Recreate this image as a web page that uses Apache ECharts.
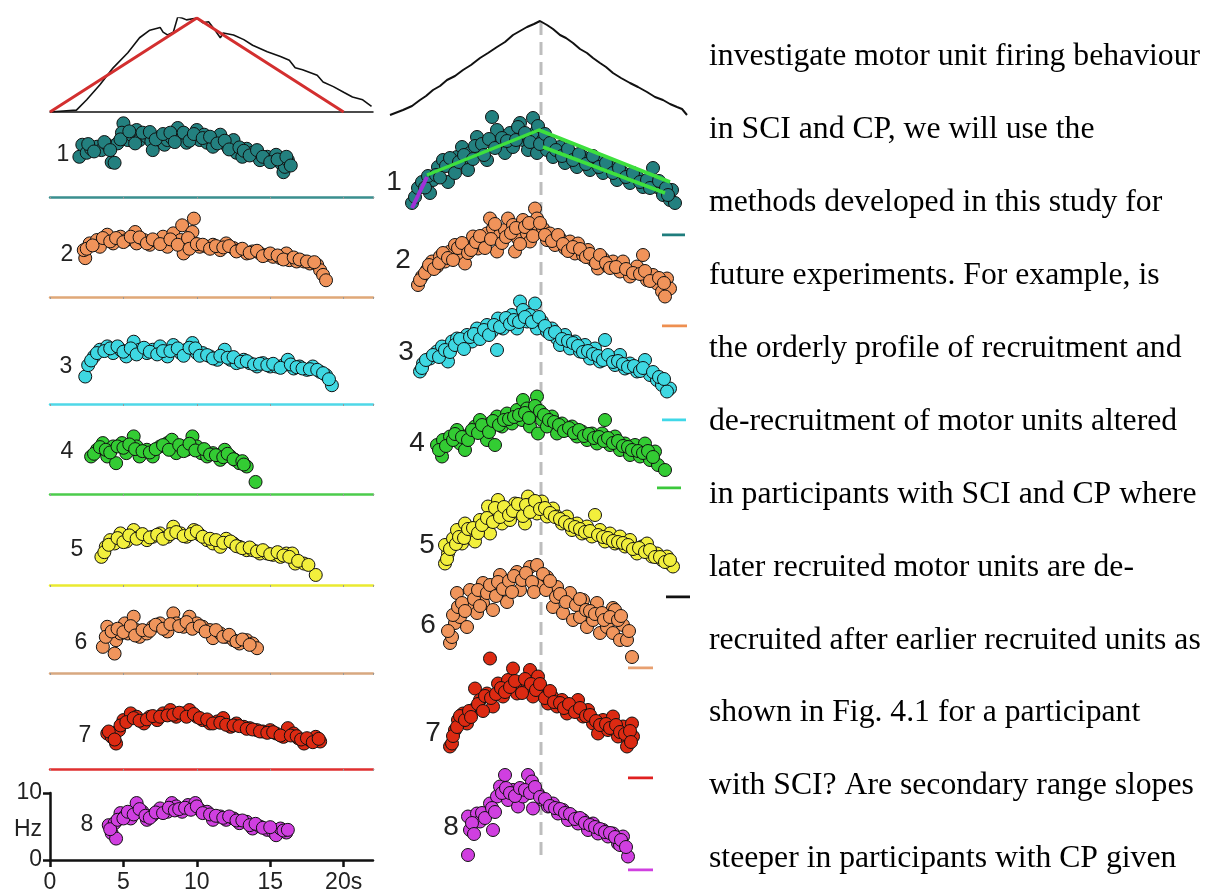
<!DOCTYPE html>
<html>
<head>
<meta charset="UTF-8">
<title>Motor unit firing</title>
<script src="https://cdn.jsdelivr.net/npm/echarts@6/dist/echarts.min.js"></script>
<style>
html, body { margin: 0; padding: 0; background: #fff; }
#chart { width: 1215px; height: 894px; }
</style>
</head>
<body>
<div id="chart"></div>
<script>
// ---- force traces (time s, force % of peak) ----
var rampTarget = [[0, 0], [10, 100], [20, 0]];
var forceLeft = [[0, 0], [1.8, 2], [2.5, 13], [3.4, 29], [4.3, 47], [5.3, 63], [6.1, 79], [6.8, 87], [7.5, 90], [7.7, 85], [8.0, 82], [8.4, 85], [8.7, 101], [9.0, 100], [9.3, 98], [10.0, 100], [10.4, 95], [10.8, 96], [11.1, 90], [11.6, 79], [11.8, 84], [12.5, 82], [13.2, 77], [13.8, 71], [14.8, 64], [15.7, 59], [16.3, 55], [16.7, 47], [17.2, 45], [18.2, 39], [18.6, 32], [19.3, 27], [20.0, 21], [20.6, 16], [21.3, 13], [21.9, 6]];
var forceMid = [[0, 0], [1.3, 5], [2.2, 9], [3.0, 15], [3.6, 19], [4.3, 25], [5.0, 29], [5.7, 35], [6.5, 39], [7.3, 45], [8.1, 50], [9.0, 57], [9.8, 62], [10.7, 68], [11.5, 73], [12.3, 80], [13.0, 84], [13.7, 88], [14.4, 91], [15.0, 94], [15.7, 90], [16.3, 86], [17.0, 80], [17.6, 77], [18.3, 72], [19.0, 66], [19.7, 62], [20.3, 57], [21.0, 52], [21.6, 48], [22.3, 42], [23.1, 37], [24.0, 32], [24.8, 28], [25.7, 23], [26.5, 18], [27.3, 15], [28.0, 11], [28.7, 8], [29.2, 6], [29.7, 0]];
var peakTime = 15.1;

// ---- left panel: firing rate (s, Hz) for units 1-8 ----
var leftUnit1 = [[2.2, 7.8], [2.0, 6.0], [2.5, 6.6], [2.8, 7.2], [3.2, 7.5], [3.5, 7.0], [3.9, 7.8], [4.2, 5.2], [4.4, 5.1], [4.6, 8.0], [5.0, 11.0], [4.9, 9.6], [5.3, 8.5], [5.6, 9.2], [5.9, 10.0], [6.1, 8.5], [6.6, 9.0], [6.9, 8.3], [7.0, 7.0], [7.5, 9.0], [7.8, 7.8], [8.0, 8.5], [8.3, 8.8], [8.7, 10.3], [8.9, 9.0], [9.3, 8.1], [9.6, 9.0], [10.0, 10.0], [10.2, 8.5], [10.5, 9.3], [10.7, 8.1], [11.1, 7.5], [11.3, 8.6], [11.6, 9.3], [12.1, 7.5], [12.3, 8.0], [12.5, 8.5], [12.7, 6.6], [13.1, 6.0], [13.4, 7.2], [13.8, 6.6], [14.0, 6.5], [14.3, 5.5], [14.8, 6.0], [15.2, 5.5], [15.4, 6.3], [15.7, 5.1], [15.9, 3.7], [16.0, 4.5], [16.2, 5.5],
  [2.6, 7.9], [3.0, 6.8], [3.7, 8.2], [4.1, 7.0], [4.8, 8.6], [5.4, 9.8], [5.8, 8.0], [6.3, 9.6], [6.8, 9.7], [7.2, 8.6], [7.7, 9.4], [8.2, 9.6], [8.5, 8.2], [9.1, 9.6], [9.5, 8.4], [9.8, 9.4], [10.4, 8.8], [10.9, 9.0], [11.4, 8.0], [11.9, 8.4], [12.2, 7.1], [12.9, 7.4], [13.2, 6.9], [13.6, 6.2], [14.1, 7.0], [14.5, 6.0], [15.0, 5.2], [15.5, 5.6], [16.1, 6.0], [16.4, 4.7]];
var leftUnit2 = [[2.4, 5.8], [2.3, 7.0], [2.7, 8.0], [3.2, 8.5], [3.4, 7.5], [3.9, 9.3], [4.3, 8.0], [4.8, 9.0], [5.2, 8.5], [5.8, 9.7], [5.9, 8.0], [6.4, 8.5], [6.8, 7.8], [7.3, 8.3], [7.7, 9.0], [8.0, 7.5], [8.4, 9.5], [8.9, 8.5], [9.0, 10.7], [9.1, 6.5], [9.7, 9.7], [9.8, 11.7], [9.8, 8.0], [10.2, 7.5], [10.7, 7.5], [11.1, 7.8], [11.6, 7.0], [12.0, 8.0], [12.5, 7.3], [12.9, 7.0], [13.4, 6.5], [13.8, 6.8], [14.3, 6.5], [14.8, 6.3], [15.2, 6.0], [15.7, 5.8], [16.1, 6.5], [16.3, 5.5], [16.8, 5.3], [17.3, 5.3], [17.7, 5.0], [18.2, 4.8], [18.4, 4.0], [18.6, 3.3], [18.8, 2.5],
  [2.5, 7.2], [2.9, 7.7], [3.6, 8.8], [4.1, 8.3], [4.5, 8.8], [5.0, 8.2], [5.5, 9.0], [6.1, 8.9], [6.6, 8.0], [7.0, 8.6], [7.5, 7.9], [8.2, 8.6], [8.7, 7.8], [9.4, 8.8], [9.5, 7.2], [10.0, 7.9], [10.4, 7.8], [10.9, 7.2], [11.3, 7.6], [11.8, 7.4], [12.2, 7.6], [12.7, 6.8], [13.1, 7.2], [13.6, 6.6], [14.1, 6.9], [14.5, 6.1], [15.0, 6.5], [15.5, 6.2], [15.9, 5.6], [16.6, 5.9], [17.0, 5.6], [17.5, 5.3], [18.0, 5.2]];
var leftUnit3 = [[2.4, 4.1], [2.6, 5.8], [3.0, 7.1], [3.4, 8.1], [3.9, 8.6], [4.3, 7.6], [4.8, 8.1], [5.2, 7.1], [5.7, 9.3], [6.1, 8.1], [6.6, 7.6], [7.0, 8.1], [7.5, 8.6], [8.0, 7.1], [8.4, 8.8], [8.9, 7.6], [9.3, 8.1], [9.7, 9.1], [10.0, 7.6], [10.4, 7.6], [10.9, 7.1], [11.4, 6.6], [11.9, 8.1], [12.3, 6.6], [12.7, 6.1], [13.2, 6.6], [13.6, 6.1], [14.1, 5.6], [14.5, 6.1], [15.0, 5.6], [15.4, 5.6], [15.9, 5.8], [16.2, 6.6], [16.6, 5.3], [17.0, 5.6], [17.5, 5.1], [17.9, 5.6], [18.4, 4.8], [18.8, 4.3], [19.2, 2.8],
  [2.8, 6.5], [3.2, 7.6], [3.7, 7.9], [4.1, 8.3], [4.6, 8.6], [5.0, 7.8], [5.5, 8.3], [5.9, 7.4], [6.4, 8.4], [6.8, 7.8], [7.3, 7.4], [7.7, 7.9], [8.2, 7.9], [8.7, 8.3], [9.1, 7.2], [9.5, 8.4], [9.9, 8.3], [10.2, 7.2], [10.7, 7.3], [11.1, 6.8], [11.6, 7.2], [12.1, 6.9], [12.5, 7.0], [13.0, 6.3], [13.4, 6.4], [13.9, 5.9], [14.3, 6.0], [14.8, 5.8], [15.2, 6.0], [15.7, 5.4], [16.4, 5.9], [16.8, 5.5], [17.2, 5.3], [17.7, 5.2], [18.2, 5.1], [18.6, 4.6], [19.0, 3.7]];
var leftUnit4 = [[2.8, 5.6], [3.2, 6.6], [3.6, 7.6], [3.9, 5.6], [4.3, 7.1], [4.5, 4.6], [4.9, 7.6], [5.2, 6.1], [5.7, 8.6], [5.9, 7.1], [6.1, 5.6], [6.6, 6.6], [7.0, 5.6], [7.5, 7.1], [8.0, 7.6], [8.3, 8.1], [8.6, 6.1], [9.0, 7.1], [9.3, 6.6], [9.7, 8.6], [10.0, 7.1], [10.3, 6.1], [10.7, 5.6], [11.1, 6.1], [11.6, 5.1], [11.9, 6.6], [12.3, 5.6], [12.6, 5.1], [12.9, 4.6], [13.4, 4.1], [14.0, 1.8],
  [3.0, 6.0], [3.4, 7.0], [3.8, 6.6], [4.1, 6.2], [4.6, 7.1], [5.0, 6.9], [5.4, 7.4], [5.8, 6.7], [6.3, 6.4], [6.8, 6.2], [7.2, 6.7], [7.7, 7.3], [8.1, 6.6], [8.8, 7.3], [9.1, 6.4], [9.5, 7.5], [9.9, 6.5], [10.5, 6.7], [10.9, 5.9], [11.3, 5.8], [11.8, 5.5], [12.1, 6.0], [12.5, 5.2], [13.1, 4.9], [13.2, 4.4]];
var leftUnit5 = [[3.5, 4.2], [3.8, 5.7], [4.1, 6.7], [4.4, 6.2], [4.8, 7.7], [5.2, 6.5], [5.7, 8.2], [6.1, 7.2], [6.6, 6.7], [7.0, 7.2], [7.5, 7.7], [8.0, 7.2], [8.4, 8.7], [8.9, 7.7], [9.3, 7.2], [9.8, 8.2], [10.2, 7.5], [10.7, 6.7], [11.1, 6.2], [11.6, 5.7], [12.0, 6.9], [12.5, 6.2], [12.9, 5.7], [13.4, 5.2], [13.8, 5.2], [14.3, 4.7], [14.8, 4.7], [15.2, 4.5], [15.7, 4.2], [16.1, 4.7], [16.5, 4.7], [16.7, 3.2], [17.3, 3.2], [18.1, 1.5],
  [3.7, 4.9], [4.0, 6.0], [4.6, 7.0], [5.0, 6.4], [5.4, 7.4], [5.9, 6.9], [6.3, 7.6], [6.8, 7.1], [7.3, 7.5], [7.7, 6.9], [8.2, 7.6], [8.6, 7.9], [9.1, 7.3], [9.6, 7.6], [10.0, 8.0], [10.4, 7.2], [10.9, 6.9], [11.3, 6.7], [11.8, 6.3], [12.3, 6.5], [12.7, 5.8], [13.1, 5.5], [13.6, 5.6], [14.1, 5.0], [14.5, 5.2], [15.0, 4.6], [15.5, 4.9], [15.9, 4.4], [16.3, 4.2], [16.9, 3.6], [17.6, 3.0]];
var leftUnit6 = [[3.6, 3.9], [3.9, 6.9], [4.4, 2.9], [4.5, 4.9], [4.8, 5.9], [5.1, 7.4], [5.3, 5.9], [5.7, 8.4], [5.9, 6.4], [6.1, 5.4], [6.6, 5.9], [7.0, 6.9], [7.5, 7.4], [8.0, 6.2], [8.4, 8.9], [8.6, 7.4], [9.1, 6.9], [9.5, 8.4], [10.0, 7.4], [10.4, 6.9], [10.9, 6.4], [11.1, 5.2], [11.6, 5.9], [12.0, 5.4], [12.5, 4.9], [12.9, 4.4], [13.4, 4.9], [13.8, 4.4], [14.1, 3.7],
  [3.8, 5.4], [4.2, 6.2], [4.6, 6.6], [5.0, 6.1], [5.5, 7.0], [5.8, 5.6], [6.3, 6.4], [6.8, 6.3], [7.2, 7.2], [7.7, 6.6], [8.2, 7.3], [8.8, 7.0], [9.3, 7.6], [9.7, 6.6], [10.2, 7.0], [10.6, 6.2], [11.3, 6.4], [11.8, 5.4], [12.2, 5.7], [12.7, 4.7], [13.1, 5.0], [13.6, 4.2]];
var leftUnit7 = [[3.9, 5.3], [4.2, 4.8], [4.5, 3.8], [4.7, 5.8], [5.0, 7.3], [5.5, 8.3], [5.9, 7.8], [6.4, 6.8], [6.8, 7.8], [7.3, 7.3], [7.7, 8.3], [8.2, 8.8], [8.6, 7.8], [9.1, 8.3], [9.5, 8.8], [10.0, 7.8], [10.4, 7.3], [10.9, 6.8], [11.4, 7.1], [11.8, 7.6], [12.3, 6.3], [12.7, 6.8], [13.2, 6.3], [13.6, 6.1], [14.1, 5.8], [14.5, 5.6], [15.0, 5.8], [15.4, 5.3], [15.9, 4.8], [16.2, 6.1], [16.6, 5.3], [16.9, 4.6], [17.3, 3.8], [17.7, 4.3], [18.1, 4.8], [18.4, 4.1],
  [4.0, 5.6], [4.4, 4.4], [4.8, 6.5], [5.2, 7.0], [5.7, 7.6], [6.1, 7.2], [6.6, 7.4], [7.0, 7.9], [7.5, 7.8], [8.0, 8.0], [8.4, 8.1], [8.8, 8.4], [9.3, 7.8], [9.8, 8.2], [10.2, 7.6], [10.7, 7.4], [11.1, 6.8], [11.6, 6.9], [12.0, 6.6], [12.5, 6.5], [12.9, 6.4], [13.4, 6.0], [13.8, 5.9], [14.3, 5.6], [14.8, 5.4], [15.2, 5.5], [15.7, 5.0], [16.4, 5.0], [16.8, 4.9], [17.1, 4.4], [17.5, 4.6], [17.9, 4.0], [18.3, 4.5]];
var leftUnit8 = [[4.0, 5.2], [4.2, 4.0], [4.5, 3.2], [4.4, 5.5], [4.8, 7.0], [5.1, 6.5], [5.5, 6.2], [5.9, 8.5], [6.3, 7.2], [6.6, 6.0], [7.0, 6.7], [7.5, 7.7], [8.0, 7.2], [8.3, 8.5], [8.6, 8.0], [9.0, 7.2], [9.4, 8.2], [9.9, 8.5], [10.2, 7.5], [10.7, 7.2], [11.1, 6.0], [11.6, 6.5], [12.0, 6.0], [12.5, 6.2], [12.9, 5.5], [13.4, 5.7], [13.8, 4.7], [14.3, 5.0], [14.8, 4.5], [15.2, 4.2], [15.4, 3.7], [15.7, 4.7], [16.1, 4.1],
  [4.1, 4.6], [4.6, 6.0], [5.0, 6.2], [5.3, 7.2], [5.7, 6.8], [6.1, 7.6], [6.5, 6.6], [6.8, 6.3], [7.2, 7.1], [7.7, 7.0], [8.1, 7.8], [8.5, 7.4], [8.8, 7.6], [9.2, 7.8], [9.6, 7.5], [10.0, 8.0], [10.4, 7.0], [10.9, 6.8], [11.3, 6.6], [11.8, 6.3], [12.2, 6.5], [12.7, 5.9], [13.1, 5.9], [13.6, 5.2], [14.0, 5.4], [14.5, 4.8], [15.0, 4.9], [15.9, 4.4], [16.2, 4.5]];

// ---- middle panel: firing rate around the peak, units 1-8 ----
var midUnit1 = [[2.2, 6.4], [2.5, 7.6], [2.8, 9.4], [3.2, 10.6], [4.0, 8.4], [4.3, 11.0], [4.8, 13.6], [5.3, 15.0], [5.8, 10.6], [6.2, 13.6], [6.7, 15.6], [7.2, 17.6], [7.5, 14.4], [8.0, 16.4], [8.7, 19.6], [9.0, 17.0], [9.7, 15.0], [10.2, 23.6], [10.3, 19.0], [10.7, 21.0], [11.0, 17.6], [11.5, 16.4], [12.0, 20.4], [12.3, 17.6], [13.0, 22.4], [13.3, 19.0], [13.8, 17.0], [14.3, 23.4], [14.5, 20.4], [14.7, 16.4], [15.3, 19.0], [15.7, 17.0], [16.3, 15.6], [17.0, 17.6], [17.5, 14.4], [18.0, 16.4], [18.7, 13.6], [19.3, 15.6], [20.0, 13.0], [20.7, 15.0], [21.3, 12.4], [22.0, 13.6], [22.7, 11.0], [23.3, 12.4], [24.0, 10.4], [24.7, 11.6], [25.3, 9.6], [26.3, 13.4], [26.7, 9.6], [27.3, 8.0], [28.2, 9.0], [28.0, 7.0], [28.5, 6.4],
  [3.5, 9.5], [3.8, 11.8], [4.6, 12.0], [5.0, 11.5], [5.6, 13.8], [6.0, 15.4], [6.5, 12.4], [6.9, 14.6], [7.4, 16.0], [7.8, 13.0], [8.3, 15.2], [8.5, 17.8], [9.2, 18.2], [9.4, 16.0], [9.9, 19.2], [10.5, 17.4], [11.2, 19.4], [11.7, 18.8], [12.6, 19.0], [12.8, 21.6], [13.5, 20.4], [14.0, 18.6], [14.8, 21.8], [15.0, 18.2], [15.5, 20.2], [16.0, 18.4], [16.6, 17.0], [17.2, 15.8], [17.8, 17.2], [18.3, 15.0], [18.9, 16.2], [19.6, 14.2], [20.3, 15.8], [20.9, 13.6], [21.6, 14.4], [22.3, 12.4], [22.9, 13.4], [23.6, 11.6], [24.3, 12.4], [25.0, 10.6], [25.7, 11.0], [26.0, 9.4], [26.9, 10.8], [27.6, 9.4], [27.8, 8.0]];
var midUnit2 = [[2.8, 8.2], [3.2, 9.9], [3.7, 11.2], [4.2, 12.9], [4.7, 11.9], [5.0, 13.9], [5.5, 12.9], [6.0, 14.9], [6.5, 16.2], [7.0, 14.5], [7.5, 12.5], [8.0, 16.2], [8.3, 17.9], [8.8, 15.5], [9.3, 16.9], [9.7, 18.5], [10.0, 21.5], [10.3, 19.5], [10.7, 14.9], [11.0, 18.2], [11.5, 19.2], [11.8, 21.5], [12.3, 20.2], [12.5, 14.9], [12.8, 17.5], [13.3, 21.2], [13.7, 18.5], [14.0, 16.9], [14.5, 23.5], [14.7, 21.5], [14.8, 18.9], [15.3, 19.5], [15.7, 17.2], [16.0, 18.5], [16.5, 16.2], [17.0, 17.5], [17.5, 15.5], [18.0, 16.9], [18.5, 14.5], [18.8, 16.5], [19.3, 14.2], [19.8, 15.2], [20.3, 13.2], [20.8, 11.5], [21.3, 13.5], [21.8, 11.9], [22.3, 12.9], [23.0, 10.9], [23.3, 12.9], [24.0, 9.9], [24.7, 11.9], [25.3, 14.2], [25.7, 9.2], [26.3, 10.2], [26.7, 8.5], [27.2, 6.9], [27.7, 9.5], [28.0, 7.5], [27.5, 5.9],
  [3.0, 9.2], [3.5, 10.6], [3.9, 12.2], [4.4, 11.4], [4.9, 12.6], [5.3, 14.6], [5.8, 13.6], [6.3, 13.2], [6.8, 15.6], [7.2, 16.6], [7.8, 14.6], [8.1, 15.2], [8.6, 16.8], [9.0, 18.0], [9.5, 15.6], [10.1, 17.4], [10.5, 20.4], [11.2, 16.6], [11.6, 17.8], [12.1, 18.6], [12.6, 19.6], [13.0, 16.4], [13.5, 19.8], [13.9, 20.6], [14.3, 18.0], [15.0, 20.6], [15.5, 18.2], [16.2, 17.0], [16.8, 18.2], [17.3, 16.4], [17.8, 15.0], [18.3, 15.8], [19.0, 15.4], [19.6, 13.8], [20.0, 14.4], [20.6, 12.6], [21.0, 14.2], [21.6, 12.6], [22.0, 11.6], [22.6, 11.8], [23.6, 11.4], [24.3, 10.6], [25.0, 10.4], [25.5, 11.0], [26.0, 9.0], [26.9, 9.6], [27.4, 8.6]];
var midUnit3 = [[3.0, 9.7], [3.3, 11.3], [4.0, 12.3], [4.7, 13.7], [5.2, 14.7], [5.8, 11.7], [6.2, 15.7], [6.7, 16.3], [7.2, 15.0], [7.7, 17.0], [8.2, 15.7], [8.7, 18.3], [9.2, 17.0], [9.7, 19.0], [10.2, 17.7], [10.7, 14.0], [10.8, 20.3], [11.3, 18.3], [11.8, 19.7], [12.2, 21.0], [12.7, 18.3], [13.0, 23.7], [13.3, 22.0], [13.7, 19.7], [14.0, 21.0], [14.5, 23.3], [14.7, 18.3], [15.2, 19.7], [15.7, 17.7], [16.2, 18.3], [16.7, 16.3], [17.0, 15.0], [17.5, 17.0], [18.0, 14.3], [18.5, 15.7], [19.0, 13.7], [19.5, 15.0], [20.0, 12.3], [20.5, 14.3], [21.0, 11.7], [21.5, 16.0], [22.0, 12.3], [22.5, 11.0], [23.0, 13.0], [23.5, 10.3], [24.0, 11.3], [24.7, 9.7], [25.5, 12.0], [26.0, 9.0], [26.7, 8.0], [27.2, 7.0], [28.0, 6.3], [27.7, 5.7],
  [3.2, 10.4], [3.6, 12.0], [4.3, 13.0], [4.9, 12.6], [5.5, 14.0], [6.0, 13.6], [6.5, 15.0], [7.0, 16.2], [7.4, 14.2], [8.0, 16.6], [8.4, 17.2], [9.0, 16.2], [9.4, 18.0], [9.9, 17.0], [10.4, 19.0], [11.0, 18.6], [11.6, 20.4], [12.0, 19.2], [12.4, 20.0], [12.9, 19.6], [13.5, 20.6], [14.2, 19.6], [14.9, 20.6], [15.5, 18.8], [16.0, 17.2], [16.5, 17.6], [17.2, 16.2], [17.8, 15.8], [18.3, 15.4], [18.8, 14.8], [19.3, 13.6], [19.8, 13.8], [20.3, 13.2], [20.8, 12.8], [21.3, 12.0], [21.8, 13.0], [22.3, 11.6], [22.8, 11.8], [23.3, 11.2], [23.8, 10.6], [24.4, 10.8], [25.0, 9.8], [25.3, 10.4], [26.3, 9.6], [26.9, 8.6], [27.4, 8.2]];
var midUnit4 = [[4.7, 8.6], [5.2, 6.3], [5.3, 9.6], [6.0, 10.3], [6.7, 11.6], [7.0, 8.9], [7.5, 7.6], [8.0, 10.9], [8.5, 12.3], [9.0, 13.6], [9.5, 11.6], [9.7, 9.6], [10.0, 12.9], [10.5, 8.6], [10.7, 14.3], [11.2, 12.3], [11.7, 14.9], [12.2, 12.9], [12.7, 15.6], [13.2, 13.6], [13.3, 17.6], [13.7, 15.9], [14.0, 12.3], [14.3, 14.6], [14.7, 18.3], [14.8, 10.9], [15.2, 13.6], [15.7, 12.3], [16.2, 14.3], [16.7, 10.9], [17.2, 12.9], [17.7, 11.6], [18.2, 12.3], [18.7, 10.3], [19.2, 11.3], [19.7, 9.6], [20.2, 10.9], [20.7, 8.9], [21.2, 10.9], [21.5, 13.6], [22.0, 8.6], [22.5, 10.3], [23.0, 7.6], [23.5, 8.9], [24.0, 6.6], [24.5, 8.6], [25.0, 6.3], [25.5, 8.9], [26.0, 5.6], [26.5, 7.3], [26.8, 4.6], [27.5, 3.6],
  [4.9, 7.6], [5.6, 8.4], [6.3, 9.6], [6.5, 10.8], [7.2, 10.2], [7.8, 9.6], [8.2, 11.6], [8.8, 11.0], [9.2, 12.6], [9.9, 11.2], [10.3, 13.4], [10.9, 12.6], [11.4, 13.6], [11.9, 13.8], [12.4, 14.2], [12.9, 14.6], [13.5, 15.0], [13.9, 14.0], [14.5, 16.4], [15.0, 15.4], [15.4, 14.6], [15.9, 13.6], [16.4, 13.2], [16.9, 12.6], [17.4, 11.4], [17.9, 12.0], [18.4, 11.0], [18.9, 11.6], [19.4, 10.4], [19.9, 10.8], [20.4, 10.0], [20.9, 10.2], [21.4, 9.4], [21.8, 10.0], [22.3, 9.0], [22.8, 9.4], [23.3, 8.4], [23.8, 8.2], [24.2, 7.6], [24.8, 7.4], [25.3, 7.0], [25.8, 7.4], [26.3, 6.2]];
var midUnit5 = [[5.5, 6.7], [5.8, 8.7], [5.5, 10.4], [6.3, 11.7], [6.7, 13.4], [7.2, 10.7], [7.5, 14.7], [8.0, 12.7], [8.5, 11.1], [9.0, 15.4], [9.5, 14.1], [9.8, 18.1], [10.0, 12.7], [10.7, 16.7], [10.8, 19.4], [11.2, 14.7], [11.7, 17.4], [12.0, 15.4], [12.5, 18.7], [13.0, 17.4], [13.5, 14.7], [13.8, 20.1], [14.2, 18.7], [14.7, 16.7], [15.2, 19.1], [15.7, 16.1], [16.3, 17.7], [16.7, 16.1], [17.2, 14.7], [17.7, 16.1], [18.2, 13.4], [18.7, 14.7], [19.2, 12.7], [19.7, 14.1], [20.2, 12.1], [20.5, 16.4], [21.0, 13.4], [21.5, 11.1], [22.0, 12.7], [22.5, 10.7], [23.0, 12.1], [23.5, 10.1], [24.0, 11.4], [24.7, 8.7], [25.2, 10.1], [25.7, 10.7], [26.2, 8.1], [26.7, 8.7], [27.2, 7.4], [27.7, 8.1], [28.0, 6.7], [28.3, 6.1],
  [5.7, 7.6], [6.0, 9.6], [6.6, 10.6], [6.9, 12.0], [7.4, 11.8], [7.8, 13.6], [8.3, 13.8], [8.8, 12.8], [9.2, 14.4], [9.7, 15.8], [10.3, 15.0], [10.5, 17.8], [11.0, 16.0], [11.4, 18.0], [11.9, 16.4], [12.3, 17.2], [12.8, 18.6], [13.3, 16.2], [13.6, 18.4], [14.0, 17.0], [14.5, 19.2], [15.0, 17.6], [15.5, 17.8], [16.0, 16.8], [16.5, 16.0], [17.0, 15.6], [17.5, 15.0], [18.0, 14.4], [18.5, 14.0], [19.0, 13.6], [19.5, 13.0], [20.0, 13.2], [20.8, 12.4], [21.3, 12.0], [21.8, 11.8], [22.3, 11.2], [22.8, 11.0], [23.3, 10.8], [23.8, 10.4], [24.3, 9.6], [24.9, 9.8], [25.5, 9.0], [26.0, 9.4], [26.5, 8.0], [27.0, 8.0], [27.5, 7.0], [28.0, 7.4]];
var midUnit6 = [[6.0, 5.0], [6.2, 6.2], [6.5, 9.0], [7.0, 10.2], [7.7, 8.2], [6.7, 15.0], [8.0, 12.2], [8.0, 15.6], [8.7, 11.0], [9.3, 13.0], [9.3, 17.0], [10.3, 11.6], [11.0, 18.6], [11.7, 13.2], [12.7, 19.2], [13.0, 15.6], [14.0, 20.2], [14.7, 20.6], [15.0, 16.6], [15.7, 18.2], [16.3, 12.2], [16.7, 16.2], [17.3, 11.0], [18.0, 15.0], [18.3, 9.6], [19.0, 10.2], [19.3, 13.6], [19.7, 8.2], [20.3, 9.6], [20.7, 13.0], [21.0, 7.0], [21.7, 8.2], [22.3, 12.0], [22.3, 7.0], [22.5, 11.6], [23.0, 5.6], [23.3, 8.6], [23.7, 5.6], [24.2, 2.2],
  [5.8, 7.4], [6.3, 10.6], [6.8, 12.2], [7.2, 13.0], [7.5, 11.4], [8.4, 13.8], [8.8, 15.6], [9.0, 12.4], [9.7, 15.0], [10.0, 16.6], [10.6, 14.4], [10.8, 17.2], [11.3, 15.8], [11.9, 17.4], [12.2, 15.2], [12.4, 18.4], [13.2, 17.6], [13.6, 19.0], [14.2, 17.2], [14.4, 15.2], [15.3, 18.8], [15.6, 15.6], [16.0, 17.4], [16.6, 14.2], [17.0, 14.8], [17.6, 13.2], [18.6, 12.6], [19.0, 13.8], [19.6, 11.6], [20.0, 11.4], [20.5, 10.8], [21.2, 11.0], [21.4, 9.6], [22.0, 10.2], [22.8, 9.6], [23.1, 10.4], [23.9, 7.4]];
var midUnit7 = [[6.0, 6.3], [6.2, 6.9], [6.5, 9.6], [6.8, 11.6], [7.3, 12.9], [7.7, 10.9], [8.3, 13.6], [8.5, 17.9], [9.0, 15.6], [9.7, 16.9], [10.0, 23.9], [10.3, 14.3], [10.8, 18.9], [11.3, 16.3], [11.8, 19.6], [12.3, 21.9], [12.7, 16.9], [13.0, 18.9], [13.7, 17.9], [14.0, 21.6], [14.3, 16.3], [14.8, 20.3], [15.3, 17.6], [15.8, 14.9], [16.2, 16.3], [16.7, 14.3], [17.2, 15.6], [17.7, 12.9], [18.2, 14.3], [18.8, 15.6], [19.3, 12.3], [19.8, 13.6], [20.3, 10.9], [20.8, 8.9], [21.3, 11.6], [21.8, 9.6], [22.3, 12.3], [22.8, 8.3], [23.3, 10.3], [23.8, 7.6], [24.2, 10.9], [24.3, 8.3], [23.7, 6.3],
  [6.3, 8.4], [6.7, 10.2], [7.0, 12.4], [7.5, 11.6], [7.9, 13.4], [8.1, 12.2], [8.8, 14.8], [9.3, 13.4], [9.5, 16.4], [10.1, 16.0], [10.6, 16.8], [11.1, 18.0], [11.5, 17.2], [12.0, 18.2], [12.5, 19.4], [13.2, 17.0], [13.5, 19.8], [14.1, 18.8], [14.6, 17.6], [15.0, 18.8], [15.5, 16.0], [16.0, 17.4], [16.4, 15.2], [17.0, 15.0], [17.4, 14.0], [17.9, 14.8], [18.5, 13.2], [19.0, 14.0], [19.6, 12.4], [20.0, 12.6], [20.6, 11.4], [21.0, 10.6], [21.6, 10.8], [22.0, 10.0], [22.6, 10.6], [23.0, 9.2], [23.5, 8.8], [24.0, 9.4], [24.1, 7.2]];
var midUnit8 = [[7.8, 3.0], [8.0, 8.0], [7.8, 10.7], [8.7, 11.3], [9.0, 9.7], [9.7, 11.3], [10.3, 8.0], [10.0, 13.3], [10.7, 14.7], [11.0, 16.7], [11.5, 19.0], [11.8, 14.0], [12.3, 16.0], [12.8, 12.7], [13.3, 14.7], [13.8, 19.0], [14.2, 17.7], [14.3, 12.3], [14.8, 15.3], [15.3, 14.0], [15.8, 12.7], [16.3, 13.3], [16.8, 11.3], [17.3, 12.0], [17.8, 10.0], [18.3, 10.7], [18.8, 9.3], [19.3, 10.0], [19.8, 8.0], [20.3, 9.3], [20.8, 7.3], [21.3, 8.0], [21.8, 6.7], [22.3, 7.3], [22.8, 5.3], [23.3, 6.7], [23.0, 5.0], [23.8, 2.7],
  [8.2, 9.4], [8.4, 7.2], [9.2, 11.4], [9.5, 10.4], [10.2, 12.4], [10.5, 11.6], [11.2, 15.4], [11.6, 16.4], [12.0, 15.4], [12.5, 14.8], [13.0, 16.4], [13.5, 16.0], [14.0, 15.4], [14.5, 16.6], [15.0, 14.6], [15.5, 14.2], [16.0, 12.8], [16.5, 12.4], [17.0, 12.2], [17.5, 11.4], [18.0, 11.2], [18.5, 10.2], [19.0, 10.4], [19.5, 9.4], [20.0, 9.0], [20.5, 8.6], [21.0, 8.2], [21.5, 7.6], [22.0, 7.4], [22.5, 6.6], [23.1, 6.0], [23.6, 4.6]];

// fitted slopes for unit 1 (middle panel)
var fitUp = [[3.7, 12.0], [14.9, 21.0], [28.0, 10.6]];
var fitDown = [[15.3, 17.6], [27.5, 8.4]];
var fitOnset = [[2.2, 5.4], [3.7, 11.6]];
// zero markers on the right of the middle panel (start, end time)
var zeroMarks = [[27.2, 29.5], [27.2, 29.7], [27.2, 29.6], [26.7, 29.1], [27.6, 30.0], [23.8, 26.3], [23.8, 26.3], [23.8, 26.3]];

var unitLabels = ['1', '2', '3', '4', '5', '6', '7', '8'];
var timeTicks = ['0', '5', '10', '15', '20s'];
var paragraphLines = [
  'investigate motor unit firing behaviour',
  'in SCI and CP, we will use the',
  'methods developed in this study for',
  'future experiments. For example, is',
  'the orderly profile of recruitment and',
  'de-recruitment of motor units altered',
  'in participants with SCI and CP where',
  'later recruited motor units are de-',
  'recruited after earlier recruited units as',
  'shown in Fig. 4.1 for a participant',
  'with SCI? Are secondary range slopes',
  'steeper in participants with CP given'
];

// ---- layout / style ----
var leftUnits = [leftUnit1, leftUnit2, leftUnit3, leftUnit4, leftUnit5, leftUnit6, leftUnit7, leftUnit8];
var midUnits = [midUnit1, midUnit2, midUnit3, midUnit4, midUnit5, midUnit6, midUnit7, midUnit8];
var leftBase = [197, 297, 404, 494, 585, 673, 769, 860];
var midBase = [235, 326, 420, 488, 597, 668, 778, 870];
var dotColors = ['#23807f', '#f0935a', '#3ed8e2', '#33cc33', '#f2ef3c', '#f0955c', '#dc2a12', '#d03fe0'];
var lineColors = ['#3a8f8f', '#e0a878', '#4fd8e8', '#4ccc4c', '#eaea30', '#d8a880', '#e03030', '#111'];
var markColors = ['#1f7d7d', '#ee8f50', '#40d8e8', '#3cc83c', '#111', '#e8a070', '#e02020', '#d040e0'];
var leftLabelPos = [[63, 155], [67, 255], [66, 367], [67, 452], [77, 550], [81, 643], [85, 736], [87, 825]];
var midLabelPos = [[394, 182], [403, 260], [406, 352], [417, 443], [427, 545], [428, 625], [433, 733], [451, 827]];
var HZ_PX = 6.7, MID_PX = 5;

var grids = [], xAxes = [], yAxes = [], series = [], graphics = [];
function addGrid(g, x, y) {
  grids.push(g);
  var i = grids.length - 1;
  x.gridIndex = i; y.gridIndex = i;
  x.type = 'value'; y.type = 'value';
  x.splitLine = { show: false }; y.splitLine = { show: false };
  xAxes.push(x); yAxes.push(y);
  return i;
}
var hidden = function (min, max) { return { show: false, min: min, max: max }; };

// left force trace
var g = addGrid({ left: 50, top: 18, width: 323, height: 94 },
  { min: 0, max: 22, axisLine: { lineStyle: { color: '#111', width: 1.5 } }, axisTick: { show: false }, axisLabel: { show: false } },
  hidden(0, 100));
series.push({ type: 'line', xAxisIndex: g, yAxisIndex: g, data: rampTarget, symbol: 'none', lineStyle: { color: '#d32f2f', width: 3 }, z: 3 });
series.push({ type: 'line', xAxisIndex: g, yAxisIndex: g, data: forceLeft, symbol: 'none', lineStyle: { color: '#111', width: 1.6 }, z: 2 });

// left unit rows
leftUnits.forEach(function (d, i) {
  var last = i === 7;
  var ymax = last ? 10 : 14;
  var x = last ? {
    min: 0, max: 22, interval: 5,
    axisLine: { lineStyle: { color: '#111', width: 2.5 } },
    axisTick: { length: 7, lineStyle: { color: '#111', width: 2.5 } },
    axisLabel: { color: '#222', fontSize: 23, fontFamily: 'Liberation Sans', margin: 11,
      formatter: function (v) { return timeTicks[Math.round(v / 5)]; } }
  } : {
    min: 0, max: 22, interval: 5,
    axisLine: { lineStyle: { color: lineColors[i], width: 2.5 } },
    axisTick: { length: 2, lineStyle: { color: '#999', width: 1 } },
    axisLabel: { show: false }
  };
  var y = last ? {
    min: 0, max: 10,
    axisLine: { show: true, lineStyle: { color: '#111', width: 2.5 } },
    axisTick: { show: true, length: 7, customValues: [0, 10], lineStyle: { color: '#111', width: 2.5 } },
    axisLabel: { color: '#222', fontSize: 23, fontFamily: 'Liberation Sans', margin: 8, customValues: [0, 4.6, 10],
      formatter: function (v) { return v === 0 ? '0' : (v === 10 ? '10' : 'Hz'); } }
  } : hidden(0, ymax);
  var gi = addGrid({ left: 50, width: 323, top: leftBase[i] - ymax * HZ_PX, height: ymax * HZ_PX }, x, y);
  series.push({ type: 'scatter', xAxisIndex: gi, yAxisIndex: gi, data: d, symbolSize: 13, clip: false,
    itemStyle: { color: dotColors[i], borderColor: '#111', borderWidth: 1, opacity: 1 } });
});

// middle force trace
g = addGrid({ left: 390, top: 15, width: 300, height: 100 }, hidden(0, 30), hidden(0, 100));
series.push({ type: 'line', xAxisIndex: g, yAxisIndex: g, data: forceMid, symbol: 'none', lineStyle: { color: '#111', width: 2 } });

// dashed peak line
g = addGrid({ left: 390, top: 15, width: 300, height: 840 }, hidden(0, 30), hidden(0, 1));
series.push({ type: 'line', xAxisIndex: g, yAxisIndex: g, data: [[peakTime, 0], [peakTime, 1]], symbol: 'none', z: 1,
  lineStyle: { color: '#bdbdbd', width: 3, type: [13, 7] } });

// middle unit rows
midUnits.forEach(function (d, i) {
  var gi = addGrid({ left: 390, width: 300, top: midBase[i] - 30 * MID_PX, height: 30 * MID_PX }, hidden(0, 30), hidden(0, 30));
  series.push({ type: 'scatter', xAxisIndex: gi, yAxisIndex: gi, data: d, symbolSize: 13, clip: false,
    itemStyle: { color: dotColors[i], borderColor: '#111', borderWidth: 1, opacity: 1 } });
  series.push({ type: 'line', xAxisIndex: gi, yAxisIndex: gi, data: [[zeroMarks[i][0], 0], [zeroMarks[i][1], 0]], symbol: 'none',
    lineStyle: { color: markColors[i], width: 3 } });
  if (i === 0) {
    series.push({ type: 'line', xAxisIndex: gi, yAxisIndex: gi, data: fitUp, symbol: 'none', z: 5, lineStyle: { color: '#3ee03e', width: 3.5 } });
    series.push({ type: 'line', xAxisIndex: gi, yAxisIndex: gi, data: fitDown, symbol: 'none', z: 5, lineStyle: { color: '#3ee03e', width: 3.5 } });
    series.push({ type: 'line', xAxisIndex: gi, yAxisIndex: gi, data: fitOnset, symbol: 'none', z: 5, lineStyle: { color: '#a030d8', width: 4 } });
  }
});

// unit numbers
unitLabels.forEach(function (t, i) {
  graphics.push({ type: 'text', x: leftLabelPos[i][0], y: leftLabelPos[i][1], z: 10,
    style: { text: t, fill: '#222', font: '23px "Liberation Sans"', align: 'center', verticalAlign: 'middle' } });
  graphics.push({ type: 'text', x: midLabelPos[i][0], y: midLabelPos[i][1], z: 10,
    style: { text: t, fill: '#222', font: '28px "Liberation Sans"', align: 'center', verticalAlign: 'middle' } });
});

// paragraph on the right
paragraphLines.forEach(function (t, i) {
  graphics.push({ type: 'text', x: 709, y: 57 + 72.9 * i, z: 10,
    style: { text: t, fill: '#000', font: '31.7px "Liberation Serif", "Times New Roman", serif', align: 'left', verticalAlign: 'middle' } });
});

var chart = echarts.init(document.getElementById('chart'), null, { renderer: 'canvas' });
chart.setOption({
  animation: false,
  backgroundColor: '#fff',
  grid: grids,
  xAxis: xAxes,
  yAxis: yAxes,
  series: series.map(function (s) { s.silent = true; return s; }),
  graphic: graphics
});
</script>
</body>
</html>
